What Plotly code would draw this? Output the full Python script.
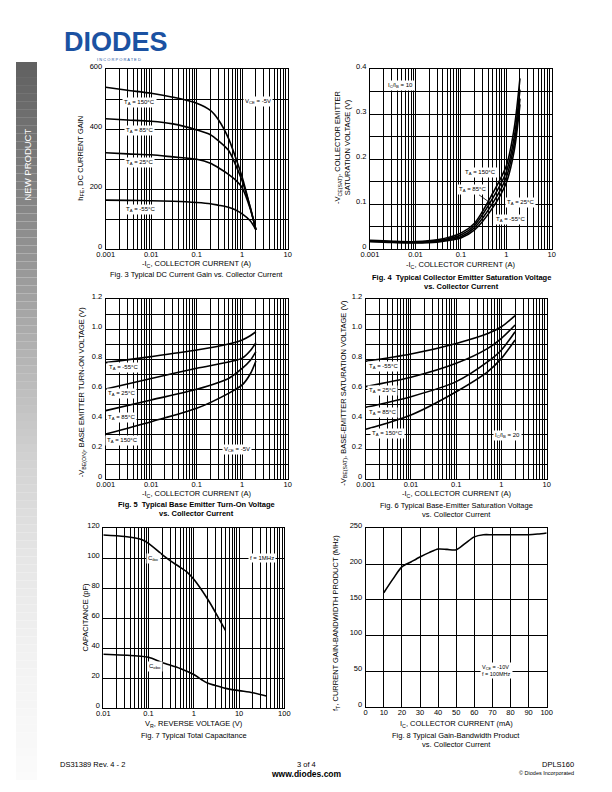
import numpy as np
import plotly.graph_objects as go

W, H = 612, 792
FONT = "Liberation Sans, Arial, Helvetica, sans-serif"

# ---------------- data ----------------
# Fig 3: DC current gain vs collector current
ic3 = [0.001, 0.003, 0.01, 0.03, 0.1, 0.2, 0.3, 0.5, 0.7, 1.0, 1.5, 2.0]
hfe_150 = [540, 530, 520, 507, 487, 463, 432, 370, 310, 240, 140, 65]
hfe_85 = [435, 431, 427, 418, 398, 382, 362, 330, 285, 228, 140, 65]
hfe_25 = [322, 318, 315, 308, 300, 287, 272, 250, 232, 205, 135, 65]
hfe_m55 = [164, 163, 162, 160, 156, 152, 147, 140, 132, 118, 95, 65]

# Fig 4: VCE(sat) vs collector current
ic4 = [0.001, 0.003, 0.01, 0.03, 0.1, 0.2, 0.5, 1.0, 1.5, 2.0]
vce_150 = [0.020, 0.018, 0.017, 0.021, 0.036, 0.058, 0.124, 0.185, 0.27, 0.38]
vce_85 = [0.019, 0.017, 0.016, 0.019, 0.032, 0.053, 0.113, 0.172, 0.25, 0.355]
vce_25 = [0.018, 0.016, 0.015, 0.018, 0.028, 0.048, 0.102, 0.160, 0.235, 0.335]
vce_m55 = [0.017, 0.015, 0.014, 0.016, 0.025, 0.043, 0.092, 0.148, 0.22, 0.322]

# Fig 5: VBE(on) vs collector current
ic5 = [0.001, 0.01, 0.1, 0.5, 1.0, 1.5, 2.0]
vbeon_m55 = [0.776, 0.816, 0.860, 0.900, 0.927, 0.955, 0.982]
vbeon_25 = [0.600, 0.670, 0.738, 0.780, 0.806, 0.855, 0.909]
vbeon_85 = [0.456, 0.527, 0.598, 0.670, 0.738, 0.790, 0.849]
vbeon_150 = [0.300, 0.382, 0.471, 0.571, 0.627, 0.700, 0.787]

# Fig 6: VBE(sat) vs collector current
ic6 = [0.001, 0.01, 0.1, 0.5, 1.0, 2.0]
vbesat_m55 = [0.785, 0.833, 0.904, 0.970, 1.015, 1.089]
vbesat_25 = [0.616, 0.678, 0.771, 0.871, 0.938, 1.027]
vbesat_85 = [0.478, 0.549, 0.649, 0.782, 0.860, 0.982]
vbesat_150 = [0.331, 0.427, 0.582, 0.716, 0.804, 0.927]

# Fig 7: capacitance vs reverse voltage
vr_cibo = [0.01, 0.03, 0.07, 0.1, 0.2, 0.3, 0.5, 0.7, 1.0, 2.0, 3.0, 5.0]
cibo = [115.5, 114.5, 112.5, 110, 102.5, 98.5, 94, 91, 86, 73, 64, 52]
vr_cobo = [0.01, 0.05, 0.1, 0.2, 0.5, 1.0, 1.5, 2.0, 3.0, 5.0, 10, 20, 40]
cobo = [36, 35, 34, 30.5, 26.5, 22.5, 19, 16.8, 15.2, 13.3, 11.8, 10.4, 8.2]

# Fig 8: fT vs collector current
ic8 = [10, 15, 20, 25, 30, 35, 40, 45, 50, 55, 60, 65, 70, 80, 90, 95, 100]
ft8 = [160, 179, 196, 203, 210, 216, 221, 220.5, 220, 229, 238, 241, 241, 241, 241, 242, 243.5]

# tick labels
log_decades = [0.001, 0.01, 0.1, 1, 10]
log_labels = ["0.001", "0.01", "0.1", "1", "10"]
cap_decades = [0.01, 0.1, 1, 10, 100]
cap_labels = ["0.01", "0.1", "1", "10", "100"]
hfe_ticks = [0, 200, 400, 600]
hfe_labels = ["0", "200", "400", "600"]
vce_ticks = [0, 0.1, 0.2, 0.3, 0.4]
vce_labels = ["0", "0.1", "0.2", "0.3", "0.4"]
vbe_ticks = [0, 0.2, 0.4, 0.6, 0.8, 1.0, 1.2]
vbe_labels = ["0", "0.2", "0.4", "0.6", "0.8", "1.0", "1.2"]
cap_ticks = [0, 20, 40, 60, 80, 100, 120]
cap_tick_labels = ["0", "20", "40", "60", "80", "100", "120"]
ft_ticks = [0, 50, 100, 150, 200, 250]
ft_labels = ["0", "50", "100", "150", "200", "250"]
ma_ticks = [0, 10, 20, 30, 40, 50, 60, 70, 80, 90, 100]
ma_labels = ["0", "10", "20", "30", "40", "50", "60", "70", "80", "90", "100"]

# ---------------- helpers ----------------
def px(x):
    return x / W

def py(y):
    return 1 - y / H

GRID_W = 1.4
TICKFONT = dict(family=FONT, size=7.5, color="black")


def log_minor(decades):
    vals = []
    for d in decades[:-1]:
        for m in range(2, 10):
            vals.append(d * m)
    return vals


def lin_minor(ticks, step):
    lo, hi = ticks[0], ticks[-1]
    n = int(round((hi - lo) / step))
    out = []
    for i in range(n + 1):
        v = lo + i * step
        if not any(abs(v - t) < 1e-9 for t in ticks):
            out.append(v)
    return out


def axis_common():
    return dict(showline=True, linecolor="black", linewidth=1, mirror=True,
                showgrid=True, gridcolor="black", gridwidth=GRID_W, automargin=False,
                ticks="", zeroline=False, tickfont=TICKFONT, fixedrange=True)


def minor_cfg(vals):
    return dict(tickmode="array", tickvals=vals, showgrid=True, gridcolor="black",
                gridwidth=GRID_W, ticks="")


fig = go.Figure()
layout = dict()
annotations = []
shapes = []

panels = {
    3: dict(x=(105.7, 287.7), y=(69.3, 249.3)),
    4: dict(x=(370.0, 551.7), y=(69.3, 249.3)),
    5: dict(x=(105.7, 287.7), y=(299.0, 479.0)),
    6: dict(x=(365.7, 546.7), y=(299.0, 479.0)),
    7: dict(x=(103.3, 284.3), y=(528.3, 708.3)),
    8: dict(x=(365.7, 546.7), y=(528.3, 707.3)),
}

ax_names = {3: "", 4: "2", 5: "3", 6: "4", 7: "5", 8: "6"}


def set_axes(k, xcfg, ycfg):
    p = panels[k]
    n = ax_names[k]
    xa = axis_common()
    xa.update(domain=[px(p["x"][0]), px(p["x"][1])], anchor="y" + n, ticklabelstandoff=-2)
    xa.update(xcfg)
    ya = axis_common()
    ya.update(domain=[py(p["y"][1]), py(p["y"][0])], anchor="x" + n,
              ticklabelshift=-3, ticklabelstandoff=1)
    ya.update(ycfg)
    layout["xaxis" + n] = xa
    layout["yaxis" + n] = ya


def add_line(k, x, y):
    n = ax_names[k]
    fig.add_trace(go.Scatter(x=x, y=y, mode="lines", xaxis="x" + n, yaxis="y" + n,
                             line=dict(color="black", width=1.6, shape="spline", smoothing=0.8),
                             hoverinfo="skip", showlegend=False))


def label(k, x, y, text, log=True, size=6, xanchor="center", align="center"):
    n = ax_names[k]
    annotations.append(dict(x=np.log10(x) if log else x, y=y, xref="x" + n, yref="y" + n,
                            text=text, showarrow=False, bgcolor="white", borderpad=1,
                            font=dict(family=FONT, size=size, color="black"),
                            xanchor=xanchor, align=align))


def ptext(x, y, text, size=7.5, angle=0, bold=False, xanchor="center", color="black"):
    t = "<b>" + text + "</b>" if bold else text
    annotations.append(dict(x=px(x), y=py(y), xref="paper", yref="paper", text=t,
                            showarrow=False, textangle=angle, xanchor=xanchor, yanchor="middle",
                            font=dict(family=FONT, size=size, color=color)))


def log_x(decades, labels, rng):
    return dict(type="log", range=rng, tickmode="array", tickvals=decades, ticktext=labels,
                minor=minor_cfg(log_minor(decades)))


def lin_ax(ticks, labels, step, rng):
    cfg = dict(range=rng, tickmode="array", tickvals=ticks, ticktext=labels)
    mv = lin_minor(ticks, step)
    if mv:
        cfg["minor"] = minor_cfg(mv)
    return cfg


# ---------- Fig 3 ----------
set_axes(3, log_x(log_decades, log_labels, [-3, 1]), lin_ax(hfe_ticks, hfe_labels, 100, [0, 600]))
for s in (hfe_150, hfe_85, hfe_25, hfe_m55):
    add_line(3, ic3, s)
label(3, 0.0055, 491, "T<sub>A</sub> = 150°C")
label(3, 0.0055, 397, "T<sub>A</sub> = 85°C")
label(3, 0.0055, 289, "T<sub>A</sub> = 25°C")
label(3, 0.0058, 134, "T<sub>A</sub> = -55°C")
label(3, 2.26, 493, "V<sub>CE</sub> = -5V")
ptext(80.7, 158, "h<sub>FE</sub>, DC CURRENT GAIN", angle=-90)
ptext(196.7, 264, "-I<sub>C</sub>, COLLECTOR CURRENT (A)")
ptext(196.7, 274, "Fig. 3 Typical DC Current Gain vs. Collector Current")

# ---------- Fig 4 ----------
set_axes(4, log_x(log_decades, log_labels, [-3, 1]), lin_ax(vce_ticks, vce_labels, 0.05, [0, 0.4]))
for s in (vce_150, vce_85, vce_25, vce_m55):
    add_line(4, ic4, s)
label(4, 0.0046, 0.364, "I<sub>C</sub>/I<sub>B</sub> = 10")
label(4, 0.275, 0.171, "T<sub>A</sub> = 150°C")
annotations.append(dict(x=np.log10(0.46), y=0.102, xref="x2", yref="y2",
                        ax=np.log10(0.177), ay=0.132, axref="x2", ayref="y2",
                        text="T<sub>A</sub> = 85°C", showarrow=True, arrowhead=2, arrowsize=0.6,
                        arrowwidth=0.8, arrowcolor="black", bgcolor="white", borderpad=1,
                        font=dict(family=FONT, size=6, color="black")))
label(4, 2.05, 0.104, "T<sub>A</sub> = 25°C")
label(4, 1.21, 0.067, "T<sub>A</sub> = -55°C")
ptext(343, 147, "-V<sub>CE(SAT)</sub>, COLLECTOR EMITTER<br>SATURATION VOLTAGE (V)", angle=-90)
ptext(460.8, 265, "-I<sub>C</sub>, COLLECTOR CURRENT (A)")
ptext(461, 277.5, "Fig. 4  Typical Collector Emitter Saturation Voltage", bold=True)
ptext(461, 286.5, "vs. Collector Current", bold=True)

# ---------- Fig 5 ----------
set_axes(5, log_x(log_decades, log_labels, [-3, 1]), lin_ax(vbe_ticks, vbe_labels, 0.1, [0, 1.2]))
for s in (vbeon_m55, vbeon_25, vbeon_85, vbeon_150):
    add_line(5, ic5, s)
label(5, 0.0025, 0.744, "T<sub>A</sub> = -55°C")
label(5, 0.00225, 0.567, "T<sub>A</sub> = 25°C")
label(5, 0.00225, 0.411, "T<sub>A</sub> = 85°C")
label(5, 0.0023, 0.26, "T<sub>A</sub> = 150°C")
label(5, 0.76, 0.198, "V<sub>CE</sub> = -5V")
ptext(81.7, 391.5, "-V<sub>BE(ON)</sub>, BASE EMITTER TURN-ON VOLTAGE (V)", angle=-90)
ptext(196.7, 494, "-I<sub>C</sub>, COLLECTOR CURRENT (A)")
ptext(196.7, 504, "Fig. 5  Typical Base Emitter Turn-On Voltage", bold=True)
ptext(196.7, 513, "vs. Collector Current", bold=True)

# ---------- Fig 6 ----------
set_axes(6, log_x(log_decades, log_labels, [-3, 1]), lin_ax(vbe_ticks, vbe_labels, 0.1, [0, 1.2]))
for s in (vbesat_m55, vbesat_25, vbesat_85, vbesat_150):
    add_line(6, ic6, s)
label(6, 0.00245, 0.749, "T<sub>A</sub> = -55°C")
label(6, 0.0024, 0.593, "T<sub>A</sub> = 25°C")
label(6, 0.0024, 0.444, "T<sub>A</sub> = 85°C")
label(6, 0.003, 0.304, "T<sub>A</sub> = 150°C")
label(6, 1.35, 0.293, "I<sub>C</sub>/I<sub>B</sub> = 20")
ptext(343.3, 392.5, "-V<sub>BE(SAT)</sub>, BASE-EMITTER SATURATION VOLTAGE (V)", angle=-90)
ptext(456.2, 494, "-I<sub>C</sub>, COLLECTOR CURRENT (A)")
ptext(456.2, 505, "Fig. 6 Typical Base-Emitter Saturation Voltage")
ptext(456.2, 514, "vs. Collector Current")

# ---------- Fig 7 ----------
set_axes(7, log_x(cap_decades, cap_labels, [-2, 2]), lin_ax(cap_ticks, cap_tick_labels, 20, [0, 120]))
add_line(7, vr_cibo, cibo)
add_line(7, vr_cobo, cobo)
label(7, 0.131, 100, "C<sub>ibo</sub>")
label(7, 0.139, 27.6, "C<sub>obo</sub>")
label(7, 32.7, 100, "f = 1MHz")
ptext(85, 617.5, "CAPACITANCE (pF)", angle=-90)
ptext(193.8, 724, "V<sub>R</sub>, REVERSE VOLTAGE (V)")
ptext(193.8, 735.5, "Fig. 7 Typical Total Capacitance")

# ---------- Fig 8 ----------
set_axes(8, lin_ax(ma_ticks, ma_labels, 10, [0, 100]), lin_ax(ft_ticks, ft_labels, 50, [0, 250]))
add_line(8, ic8, ft8)
label(8, 63, 51.5, "V<sub>CE</sub> = -10V<br>f = 100MHz", log=False, size=5.5, xanchor="left", align="left")
ptext(336, 623, "f<sub>T</sub>, CURRENT GAIN-BANDWIDTH PRODUCT (MHz)", angle=-90)
ptext(456.2, 724, "I<sub>C</sub>, COLLECTOR CURRENT (mA)")
ptext(456.2, 735.5, "Fig. 8 Typical Gain-Bandwidth Product")
ptext(456.2, 744.5, "vs. Collector Current")

# ---------- page decorations ----------
# side bar gradient
stops = [(60, 95), (160, 122), (260, 149), (360, 181), (460, 210), (560, 230), (660, 242), (780, 251)]
N = 90
y0, y1 = 62, 780
for i in range(N):
    ya = y0 + (y1 - y0) * i / N
    yb = y0 + (y1 - y0) * (i + 1) / N
    ym = (ya + yb) / 2
    g = int(round(np.interp(ym, [s[0] for s in stops], [s[1] for s in stops])))
    shapes.append(dict(type="rect", xref="paper", yref="paper", x0=px(16), x1=px(37),
                       y0=py(yb), y1=py(ya), fillcolor="rgb(%d,%d,%d)" % (g, g, g),
                       line=dict(width=0), layer="below"))
ptext(26.5, 165, "NEW PRODUCT", size=9.5, angle=-90, color="white")

# logo
ptext(116, 41.5, "DIODES", size=27, bold=True, color="#1b52a2")
ptext(119, 59.5, "I N C O R P O R A T E D", size=4, color="#1b52a2")

# footer
ptext(58, 764, "DS31389 Rev. 4 - 2", size=7.5, xanchor="left")
ptext(306, 764, "3 of 4", size=7.5)
ptext(306, 774, "www.diodes.com", size=8.5, bold=True)
ptext(576, 764, "DPLS160", size=7.5, xanchor="right")
ptext(576, 773, "© Diodes Incorporated", size=5.5, xanchor="right")

layout.update(width=W, height=H, margin=dict(l=0, r=0, t=0, b=0, autoexpand=False),
              paper_bgcolor="white", plot_bgcolor="white", showlegend=False,
              annotations=annotations, shapes=shapes,
              font=dict(family=FONT, size=7.5, color="black"))
fig.update_layout(**layout)
fig.write_html("out.html", config={"displayModeBar": False})
